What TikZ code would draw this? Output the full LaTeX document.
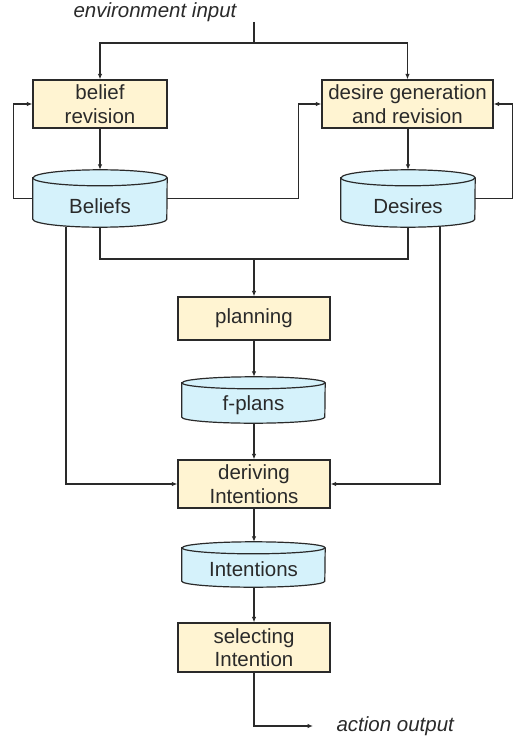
\documentclass[tikz,border=0pt]{standalone}
\usepackage{fontspec}
\setmainfont{Liberation Sans}
\usetikzlibrary{arrows.meta,backgrounds}
\definecolor{boxfill}{HTML}{FFF4D2}
\definecolor{cylfill}{HTML}{D5F2FB}
\definecolor{ink}{HTML}{2A2A2A}
\newcommand\drawcyl[3]{% node, x radius, y radius
  \path[draw=ink, fill=cylfill, line width=1.2pt]
    ([yshift=-#3pt]#1.north west) -- ([yshift=#3pt]#1.south west)
    arc[start angle=180, end angle=360, x radius=#2pt, y radius=#3pt]
    -- ([yshift=-#3pt]#1.north east)
    arc[start angle=0, end angle=180, x radius=#2pt, y radius=#3pt] -- cycle;
  \draw[ink, line width=1.2pt] ([yshift=-#3pt]#1.north west)
    arc[start angle=180, end angle=360, x radius=#2pt, y radius=#3pt];
}
\begin{document}
\begin{tikzpicture}[x=1pt, y=-1pt,
  txt/.style={font=\fontsize{20.5}{23.5}\selectfont, text=ink},
  procbox/.style={txt, draw=ink, fill=boxfill, line width=1.2pt, align=center, inner sep=0pt},
  cylnode/.style={inner sep=0pt},
  conn/.style={draw=ink, line width=1.2pt},
  arr/.style={conn, -{Latex[length=5.5pt,width=4.5pt]}}]
\useasboundingbox (0,0) rectangle (514,741);
\begin{scope}[on background layer]
  \fill[white] (0,0) rectangle (514,741);
\end{scope}

% process boxes
\node[procbox, minimum width=134pt, minimum height=48pt] (bel) at (100,104) {belief\\revision};
\node[procbox, minimum width=171pt, minimum height=48pt] (des) at (407.5,104) {desire generation\\and revision};
\node[procbox, minimum width=152pt, minimum height=43pt] (plan) at (254,318.5) {planning};
\node[procbox, minimum width=152pt, minimum height=48pt] (der) at (254,484) {deriving\\Intentions};
\node[procbox, minimum width=152pt, minimum height=49pt] (sel) at (254,647.5) {selecting\\Intention};

% data stores (cylinders)
\node[cylnode, minimum width=134pt, minimum height=57pt] (belc) at (100,198.5) {};
\node[cylnode, minimum width=134pt, minimum height=57pt] (desc) at (408,198.5) {};
\node[cylnode, minimum width=143pt, minimum height=46pt] (fpl) at (253.5,400) {};
\node[cylnode, minimum width=143pt, minimum height=45pt] (intc) at (253.5,564.5) {};
\begin{scope}[on background layer]
  \drawcyl{belc}{67}{8}
  \drawcyl{desc}{67}{8}
  \drawcyl{fpl}{71.5}{6}
  \drawcyl{intc}{71.5}{6}
\end{scope}
\node[txt] (belt) at ([yshift=-8pt]belc.center) {Beliefs};
\node[txt] (dest) at ([yshift=-8pt]desc.center) {Desires};
\node[txt] (fplt) at ([yshift=-5pt]fpl.center) {f-plans};
\node[txt] (intt) at ([yshift=-5pt]intc.center) {Intentions};

% environment input
\node[txt, font=\fontsize{20.5}{23.5}\selectfont\itshape] (env) at (155,12) {environment input};
\coordinate (envj) at (254,22);
\coordinate (split) at (254,43);
\draw[conn] (envj) -- (split);
\draw[arr] (split) -| (bel.north);
\draw[arr] (split) -| (des.north);

% revision loops
\draw[arr] (bel.south) -- (belc.north);
\draw[arr] (des.south -| desc.north) -- (desc.north);
\draw[arr] (belc.west) -- ++(-19,0) |- (bel.west);
\draw[arr] (desc.east) -- ++(37,0) |- (des.east);
\draw[arr] (belc.east) -- ++(131,0) |- (des.west);

% to planning
\coordinate (mj) at (254,259);
\draw[conn] (belc.south) -- (belc.south |- mj) -- (desc.south |- mj) -- (desc.south);
\draw[arr] (mj) -- (plan.north);
\draw[arr] (plan.south) -- (plan.south |- fpl.north);
\draw[arr] (plan.south |- fpl.south) -- (der.north);

% to deriving intentions
\draw[arr] ([xshift=-34pt]belc.south) |- (der.west);
\draw[arr] ([xshift=32pt]desc.south) |- (der.east);
\draw[arr] (der.south) -- (der.south |- intc.north);
\draw[arr] (der.south |- intc.south) -- (sel.north);

% action output
\coordinate (out) at (313,726);
\draw[arr] (sel.south) |- (out);
\node[txt, font=\fontsize{20.5}{23.5}\selectfont\itshape, anchor=west] (act) at (333,726) {action output};
\end{tikzpicture}
\end{document}
